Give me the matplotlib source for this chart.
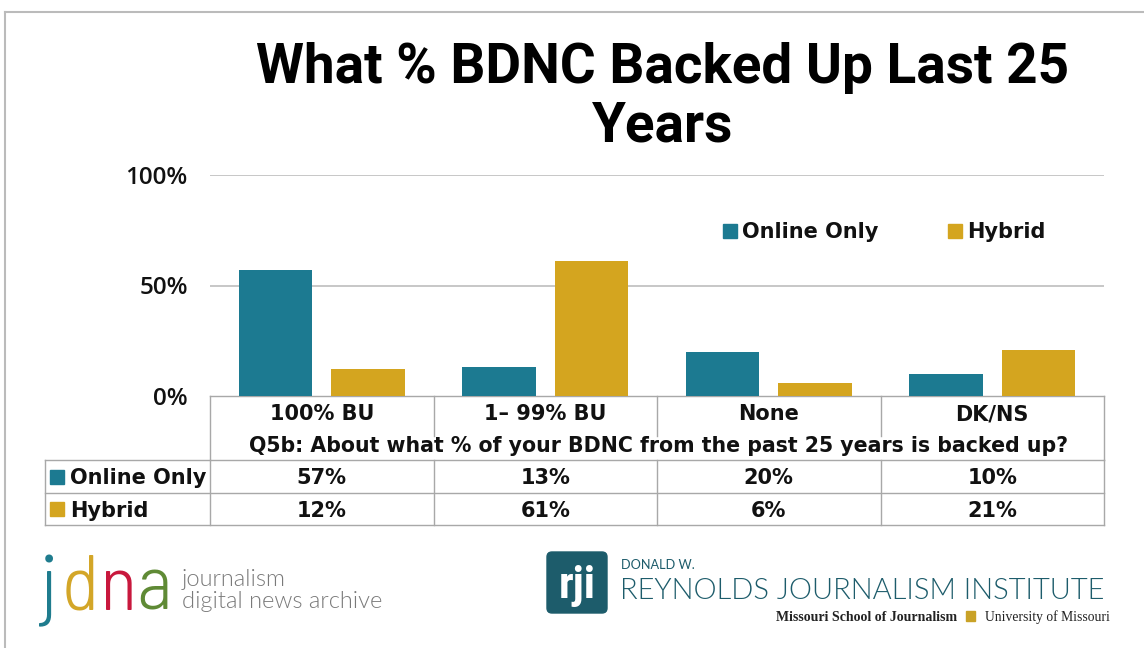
import numpy as np
import matplotlib
matplotlib.use("Agg")
import matplotlib.pyplot as plt
from matplotlib.patches import Rectangle, FancyBboxPatch

categories = ["100% BU", "1\u2013 99% BU", "None", "DK/NS"]
series_names = ["Online Only", "Hybrid"]
online_only = [57, 13, 20, 10]
hybrid = [12, 61, 6, 21]
y_ticks = [0, 50, 100]
y_tick_labels = ["0%", "50%", "100%"]
title = "What % BDNC Backed Up Last 25\nYears"
question = "Q5b: About what % of your BDNC from the past 25 years is backed up?"

TEAL = "#1C7A91"
GOLD = "#D4A51F"
GRID = "#BDBDBD"
TXT = "#111111"
BODY = ["DejaVu Sans"]
TITLE_FONT = ["Roboto", "Liberation Sans", "DejaVu Sans"]
TICK_FONT = ["Open Sans", "DejaVu Sans"]
LOGO_FONT = ["Lato", "DejaVu Sans"]
FS = 15

W, H = 1144, 648
fig = plt.figure(figsize=(W / 100, H / 100), dpi=100)
fig.patch.set_facecolor("white")

# overlay in pixel coordinates for table, legend, logos
ov = fig.add_axes([0, 0, 1, 1])
ov.set_xlim(0, W)
ov.set_ylim(H, 0)
ov.axis("off")

# chart area
x0, x1 = 210, 1104
y_zero, y_top = 396, 175
ax = fig.add_axes([x0 / W, (H - y_zero) / H, (x1 - x0) / W, (y_zero - y_top) / H])
ax.set_zorder(2)
ax.patch.set_alpha(0)
xs = np.arange(len(categories))
bw = 0.33
ax.bar(xs - 0.207, online_only, bw, color=TEAL, zorder=3)
ax.bar(xs + 0.207, hybrid, bw, color=GOLD, zorder=3)
ax.set_xlim(-0.5, len(categories) - 0.5)
ax.set_ylim(0, 100)
ax.set_yticks(y_ticks)
ax.set_yticklabels(y_tick_labels, family=TICK_FONT, fontsize=17.5, color=TXT,
                   fontweight=600)
ax.set_xticks([])
ax.tick_params(axis="y", length=0, pad=16)
for s in ax.spines.values():
    s.set_visible(False)
for t in y_ticks[1:]:
    ax.axhline(t, color=GRID, lw=1.2, zorder=1)

# title
fig.text(663 / W, 1 - 97 / H, title, ha="center", va="center",
         family=TITLE_FONT, fontweight="bold",
         fontsize=39.5, linespacing=1.17, color="black")

# legend
for (lx, name, col) in [(723, series_names[0], TEAL), (948, series_names[1], GOLD)]:
    ov.add_patch(Rectangle((lx, 224), 14, 14, color=col))
    ov.text(lx + 19, 232, name, ha="left", va="center", family=BODY,
            fontweight="bold", fontsize=FS, color=TXT)

# data table
col_edges = [x0 + i * (x1 - x0) / len(categories) for i in range(len(categories) + 1)]
row_head, row_q, row_a, row_b, row_end = 396, 428, 460, 493, 525
lc = "#A8A8A8"
lw = 1.0
ov.plot([x0, x0], [row_head, row_a], color=lc, lw=lw)
ov.plot([x1, x1], [row_head, row_a], color=lc, lw=lw)
ov.plot([x0, x1], [row_head, row_head], color=lc, lw=lw)
for cx in col_edges[1:-1]:
    ov.plot([cx, cx], [row_head, row_q + 8], color=lc, lw=lw)
left = 45
for yy in [row_a, row_b, row_end]:
    ov.plot([left, x1], [yy, yy], color=lc, lw=lw)
for cx in [left] + col_edges:
    ov.plot([cx, cx], [row_a, row_end], color=lc, lw=lw)

for i, cat in enumerate(categories):
    cx = (col_edges[i] + col_edges[i + 1]) / 2
    ov.text(cx, (row_head + row_q) / 2 + 2, cat, ha="center", va="center",
            family=BODY, fontweight="bold", fontsize=FS, color=TXT)
    ov.text(cx, (row_a + row_b) / 2 + 2, f"{online_only[i]}%", ha="center", va="center",
            family=BODY, fontweight="bold", fontsize=FS, color=TXT)
    ov.text(cx, (row_b + row_end) / 2 + 2, f"{hybrid[i]}%", ha="center", va="center",
            family=BODY, fontweight="bold", fontsize=FS, color=TXT)
ov.text((x0 + x1) / 2 + 2, (row_q + row_a) / 2 + 2, question, ha="center", va="center",
        family=BODY, fontweight="bold", fontsize=14.8, color=TXT)
for yy, name, col in [((row_a + row_b) / 2, series_names[0], TEAL),
                      ((row_b + row_end) / 2, series_names[1], GOLD)]:
    ov.add_patch(Rectangle((50, yy - 7), 14, 14, color=col))
    ov.text(70, yy + 2, name, ha="left", va="center", family=BODY,
            fontweight="bold", fontsize=FS, color=TXT)

# page border
ov.plot([5, W], [12, 12], color="#BBBBBB", lw=1.5)
ov.plot([5, 5], [12, H], color="#BBBBBB", lw=1.5)

# jdna logo
jdna_font = ["Barlow Semi Condensed", "DejaVu Sans"]
for ch, col, lx in zip("jdna", ["#1F7C8E", "#D3A628", "#C8183D", "#5F8A35"],
                       [41, 62, 100, 136]):
    ov.text(lx, 610, ch, ha="left", va="baseline", family=jdna_font,
            fontweight=300, fontsize=56, color=col)
ov.text(182, 586, "journalism", ha="left", va="baseline", family=LOGO_FONT,
        fontweight=300, fontsize=17, color="#7A7A7A")
ov.text(182, 608, "digital news archive", ha="left", va="baseline", family=LOGO_FONT,
        fontweight=300, fontsize=17, color="#7A7A7A")

# RJI logo
RJI = "#1D5C6B"
ov.add_patch(FancyBboxPatch((547, 552), 60, 61, boxstyle="round,pad=0,rounding_size=5",
                            color=RJI))
ov.text(577, 586, "rji", ha="center", va="center", family=["Roboto Condensed", "DejaVu Sans"],
        fontweight="bold", fontsize=32, color="white")
ov.text(621, 569, "DONALD W.", ha="left", va="baseline", family=LOGO_FONT,
        fontsize=9.2, color=RJI)
ov.text(620, 599, "REYNOLDS JOURNALISM INSTITUTE", ha="left", va="baseline",
        family=LOGO_FONT, fontweight=300, fontsize=21, color=RJI)
ov.text(776, 621, "Missouri School of Journalism", ha="left", va="baseline",
        family=["Liberation Serif", "DejaVu Serif"], fontweight="bold", fontsize=10, color="#222222")
ov.add_patch(Rectangle((966, 611), 9, 10, color="#C9A227"))
ov.text(985, 621, "University of Missouri", ha="left", va="baseline",
        family=["Liberation Serif", "DejaVu Serif"], fontsize=9.8, color="#222222")

fig.savefig("out.png", dpi=100, facecolor="white")
